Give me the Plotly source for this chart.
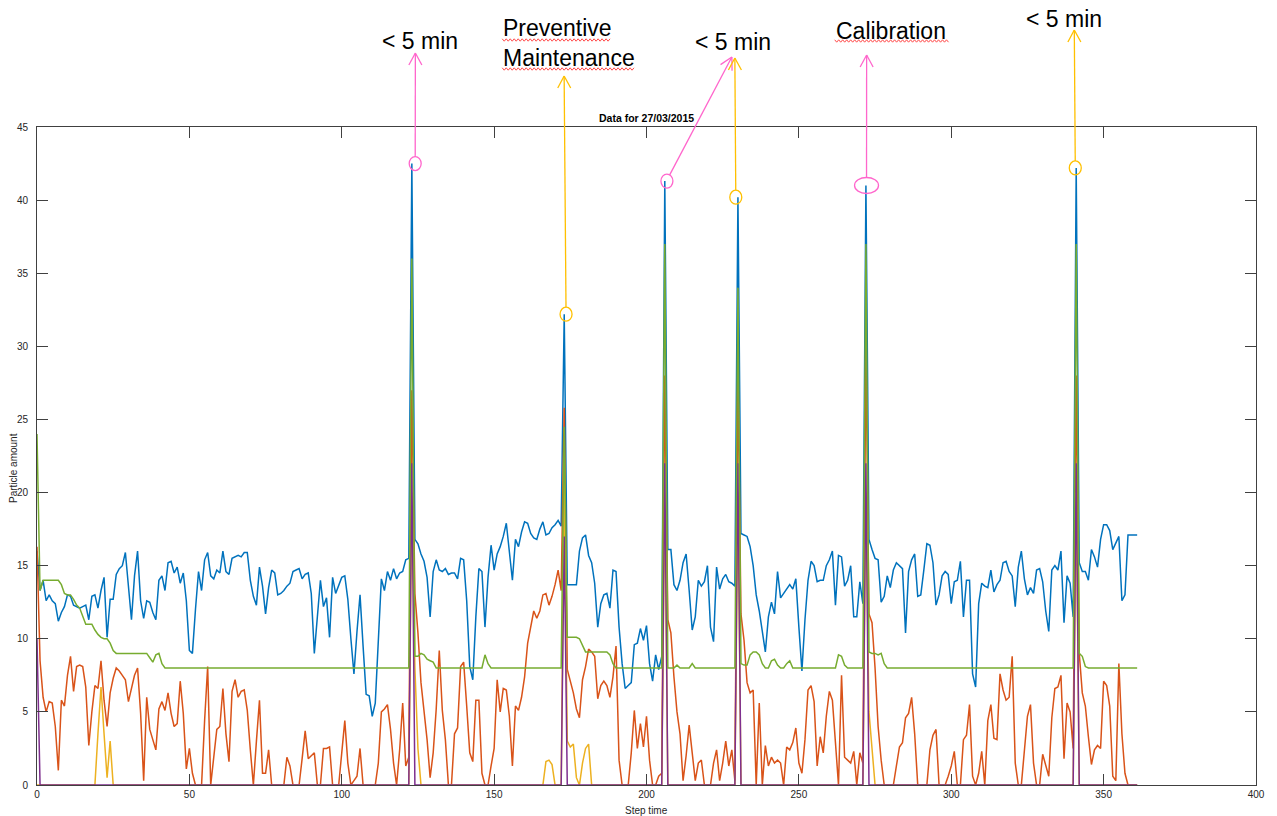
import plotly.graph_objects as go

step = list(range(362))

blue = [
    16.0, 13.3, 14.0, 12.6, 13.0, 12.6, 12.4, 11.2, 11.8, 12.2,
    13.0, 12.9, 12.3, 12.2, 12.1, 12.2, 12.3, 11.3, 12.9, 13.0,
    12.1, 13.3, 14.2, 10.1, 12.7, 12.7, 14.4, 14.8, 15.0, 15.9,
    13.8, 11.3, 14.3, 16.0, 12.6, 11.4, 12.6, 12.5, 11.8, 11.3,
    14.0, 14.3, 13.3, 15.2, 15.3, 14.5, 14.9, 13.8, 14.5, 12.6,
    9.2, 9.0, 12.0, 14.6, 13.3, 15.4, 15.9, 14.3, 14.1, 14.7,
    14.5, 16.0, 14.6, 14.4, 15.5, 15.6, 15.7, 15.6, 15.9, 15.9,
    14.0, 12.9, 12.3, 14.9, 13.6, 11.7, 13.5, 14.7, 14.5, 13.0,
    13.1, 13.3, 13.6, 13.8, 14.6, 14.7, 14.8, 14.1, 14.4, 14.5,
    13.1, 9.0, 11.5, 14.0, 12.2, 12.8, 10.1, 14.2, 13.1, 13.7,
    14.2, 14.3, 12.7, 10.0, 7.6, 10.5, 13.0, 9.5, 6.2, 6.1,
    4.7, 5.6, 10.0, 14.1, 13.3, 14.6, 14.0, 14.8, 14.1, 14.5,
    14.6, 15.4, 15.5, 42.5, 16.8, 16.5, 15.8, 15.3, 14.2, 11.5,
    14.6, 15.4, 14.7, 14.6, 14.8, 14.4, 14.5, 14.5, 14.1, 15.5,
    15.4, 12.6, 8.1, 7.2, 11.5, 14.8, 14.6, 10.8, 14.2, 16.4,
    14.7, 15.8, 16.3, 17.0, 17.9, 16.1, 14.0, 16.8, 16.3, 17.3,
    18.0, 17.9, 17.2, 16.9, 16.8, 17.5, 18.0, 17.1, 17.2, 17.6,
    17.8, 18.1, 17.7, 32.2, 13.7, 13.7, 13.7, 13.7, 16.0, 16.9,
    17.1, 15.7, 15.2, 13.8, 10.8, 12.4, 13.0, 13.1, 12.1, 14.7,
    14.6, 10.8, 8.3, 6.6, 6.8, 7.0, 9.6, 9.7, 10.7, 9.9,
    10.9, 8.3, 7.1, 8.9, 7.9, 8.8, 41.3, 16.1, 16.1, 13.7,
    13.3, 14.0, 15.2, 15.8, 13.3, 10.6, 11.5, 14.0, 13.6, 13.9,
    15.0, 10.8, 9.8, 14.9, 13.4, 14.1, 14.4, 13.9, 13.8, 13.6,
    40.2, 17.2, 17.1, 17.0, 16.3, 15.0, 13.0, 11.9, 10.5, 9.1,
    11.5, 12.5, 11.7, 14.6, 12.8, 13.1, 13.4, 13.7, 13.4, 14.1,
    10.8, 7.8, 11.3, 14.0, 15.3, 15.0, 13.9, 14.0, 14.0, 15.0,
    15.4, 16.0, 12.3, 15.7, 15.6, 13.6, 14.0, 15.0, 11.5, 11.5,
    13.9, 12.4, 41.0, 16.8, 16.1, 15.5, 15.4, 12.5, 12.9, 14.3,
    13.5, 14.7, 15.2, 15.0, 14.8, 10.4, 14.6, 15.4, 15.8, 12.9,
    13.0, 14.7, 16.5, 16.4, 15.2, 12.3, 13.0, 14.3, 14.6, 14.4,
    12.4, 13.9, 14.0, 15.3, 11.5, 14.0, 14.0, 7.6, 6.7, 12.4,
    13.8, 13.6, 13.5, 14.7, 13.2, 13.7, 14.0, 15.2, 15.3, 14.6,
    14.3, 12.2, 14.9, 16.0, 14.1, 13.0, 13.5, 13.1, 14.7, 14.8,
    13.9, 11.9, 10.5, 14.7, 15.0, 14.7, 16.0, 11.1, 14.3, 13.8,
    11.5, 42.2, 15.2, 14.6, 14.6, 14.0, 16.1, 15.6, 14.9, 16.8,
    17.8, 17.8, 17.4, 16.1, 16.5, 17.0, 12.6, 13.0, 17.1, 17.1,
    17.1, 17.1,
]

orange = [
    16.3, 8.5, 6.0, 5.0, 5.7, 5.6, 4.0, 1.0, 5.8, 5.4,
    7.5, 8.8, 6.4, 8.1, 8.2, 8.1, 6.7, 2.7, 5.0, 6.8,
    6.6, 8.5, 5.8, 4.0, 6.3, 7.3, 8.0, 7.8, 7.5, 7.2,
    5.7, 6.7, 7.5, 8.0, 4.9, 0.3, 6.0, 3.8, 3.1, 2.4,
    5.2, 5.7, 5.1, 6.3, 4.9, 4.0, 4.2, 7.1, 4.9, 1.1,
    2.5, 0.8, 0.0, 0.0, 0.0, 4.4, 8.1, 0.0, 2.0, 3.8,
    4.0, 6.6, 3.5, 1.6, 6.4, 7.2, 6.0, 6.4, 6.5, 5.1,
    2.4, 0.0, 3.0, 5.8, 0.8, 0.8, 2.4, 0.0, 0.0, 0.0,
    0.0, 0.0, 1.9, 1.3, 0.0, 0.0, 0.0, 1.8, 3.7, 1.8,
    2.0, 2.2, 0.0, 0.0, 2.5, 2.5, 2.6, 0.0, 0.0, 0.0,
    2.2, 4.4, 1.5, 0.0, 0.3, 0.6, 2.5, 0.0, 0.0, 0.0,
    0.0, 0.0, 1.5, 5.0, 5.2, 5.5, 3.8, 1.5, 0.0, 2.4,
    5.6, 1.3, 1.9, 27.0, 13.1, 10.4, 7.0, 5.0, 3.1, 0.5,
    2.2, 5.2, 9.2, 5.1, 3.1, 0.0, 0.0, 3.5, 3.9, 8.1,
    8.4, 5.4, 2.2, 1.6, 5.8, 5.8, 0.8, 0.0, 0.0, 1.3,
    2.5, 7.2, 5.0, 6.6, 6.5, 4.7, 1.3, 5.4, 5.1, 6.0,
    7.4, 9.7, 10.8, 11.9, 11.4, 11.9, 13.0, 13.1, 12.3, 12.9,
    13.7, 14.7, 13.3, 25.8, 7.9, 7.1, 6.3, 5.2, 4.6, 7.2,
    8.1, 9.3, 9.1, 8.8, 5.9, 6.8, 7.1, 6.8, 6.0, 7.4,
    9.5, 1.7, 0.0, 0.0, 0.0, 2.2, 5.1, 2.5, 4.2, 2.6,
    4.7, 1.7, 0.0, 0.0, 0.6, 0.8, 28.0, 11.3, 10.4, 7.4,
    5.0, 3.5, 0.3, 2.0, 4.1, 2.2, 0.3, 1.5, 1.7, 0.0,
    0.0, 0.0, 1.5, 2.4, 0.3, 1.5, 3.0, 1.3, 2.4, 0.3,
    28.0, 11.7, 9.9, 7.0, 6.3, 6.5, 0.0, 5.6, 0.0, 2.7,
    1.3, 1.9, 1.5, 1.7, 1.5, 0.0, 2.6, 2.4, 2.9, 3.9,
    1.5, 0.8, 3.1, 6.5, 6.8, 5.7, 1.3, 3.3, 2.2, 4.7,
    6.4, 5.8, 2.9, 0.0, 7.5, 1.9, 1.7, 1.5, 2.3, 0.0,
    2.2, 1.5, 30.0, 11.7, 11.1, 8.0, 4.0, 1.7, 0.0, 0.0,
    0.0, 0.0, 1.3, 2.6, 2.9, 4.6, 4.9, 6.0, 3.5, 0.0,
    0.0, 0.0, 0.0, 2.4, 3.4, 3.8, 0.0, 0.0, 0.0, 0.6,
    1.3, 2.3, 0.0, 0.0, 3.1, 3.4, 5.5, 0.6, 0.0, 0.8,
    2.3, 0.0, 4.4, 5.5, 3.2, 3.1, 7.6, 6.5, 5.8, 6.0,
    8.8, 1.5, 0.0, 0.0, 2.4, 4.7, 5.5, 1.5, 0.0, 0.0,
    2.1, 1.3, 0.6, 4.6, 6.6, 6.7, 7.5, 1.8, 5.6, 5.0,
    2.5, 28.0, 9.0, 6.3, 5.4, 3.3, 1.4, 2.4, 2.7, 2.5,
    7.1, 6.8, 5.4, 0.6, 0.3, 8.3, 3.5, 0.8, 0.0, 0.0,
    0.0, 0.0,
]

yellow = [
    0, 0, 0, 0, 0, 0, 0, 0, 0, 0,
    0, 0, 0, 0, 0, 0, 0, 0, 0, 0,
    3.5, 6.7, 3.5, 0.5, 3.0, 0, 0, 0, 0, 0,
    0, 0, 0, 0, 0, 0, 0, 0, 0, 0,
    0, 0, 0, 0, 0, 0, 0, 0, 0, 0,
    0, 0, 0, 0, 0, 0, 0, 0, 0, 0,
    0, 0, 0, 0, 0, 0, 0, 0, 0, 0,
    0, 0, 0, 0, 0, 0, 0, 0, 0, 0,
    0, 0, 0, 0, 0, 0, 0, 0, 0, 0,
    0, 0, 0, 0, 0, 0, 0, 0, 0, 0,
    0, 0, 0, 0, 0, 0, 0, 0, 0, 0,
    0, 0, 0, 0, 0, 0, 0, 0, 0, 0,
    0, 0, 0, 20.0, 8.0, 2.5, 0, 0, 0, 0,
    0, 0, 0, 0, 0, 0, 0, 0, 0, 0,
    0, 0, 0, 0, 0, 0, 0, 0, 0, 0,
    0, 0, 0, 0, 0, 0, 0, 0, 0, 0,
    0, 0, 0, 0, 0, 0, 0, 1.6, 1.7, 1.4,
    0, 0, 0, 20.4, 3.0, 2.6, 2.8, 0.5, 0, 1.5,
    2.5, 2.8, 0, 0, 0, 0, 0, 0, 0, 0,
    0, 0, 0, 0, 0, 0, 0, 0, 0, 0,
    0, 0, 0, 0, 0, 0, 20.0, 0, 0, 0,
    0, 0, 0, 0, 0, 0, 0, 0, 0, 0,
    0, 0, 0, 0, 0, 0, 0, 0, 0, 0,
    20.0, 0, 0, 0, 0, 0, 0, 0, 0, 0,
    0, 0, 0, 0, 0, 0, 0, 0, 0, 0,
    0, 0, 0, 0, 0, 0, 0, 0, 0, 0,
    0, 0, 0, 0, 0, 0, 0, 0, 0, 0,
    0, 0, 20.0, 5.0, 2.5, 0, 0, 0, 0, 0,
    0, 0, 0, 0, 0, 0, 0, 0, 0, 0,
    0, 0, 0, 0, 0, 0, 0, 0, 0, 0,
    0, 0, 0, 0, 0, 0, 0, 0, 0, 0,
    0, 0, 0, 0, 0, 0, 0, 0, 0, 0,
    0, 0, 0, 0, 0, 0, 0, 0, 0, 0,
    0, 0, 0, 0, 0, 0, 0, 0, 0, 0,
    0, 20.0, 0, 0, 0, 0, 0, 0, 0, 0,
    0, 0, 0, 0, 0, 0, 0, 0, 0, 0,
    0, 0,
]

purple = [
    10.0, 0, 0, 0, 0, 0, 0, 0, 0, 0,
    0, 0, 0, 0, 0, 0, 0, 0, 0, 0,
    0, 0, 0, 0, 0, 0, 0, 0, 0, 0,
    0, 0, 0, 0, 0, 0, 0, 0, 0, 0,
    0, 0, 0, 0, 0, 0, 0, 0, 0, 0,
    0, 0, 0, 0, 0, 0, 0, 0, 0, 0,
    0, 0, 0, 0, 0, 0, 0, 0, 0, 0,
    0, 0, 0, 0, 0, 0, 0, 0, 0, 0,
    0, 0, 0, 0, 0, 0, 0, 0, 0, 0,
    0, 0, 0, 0, 0, 0, 0, 0, 0, 0,
    0, 0, 0, 0, 0, 0, 0, 0, 0, 0,
    0, 0, 0, 0, 0, 0, 0, 0, 0, 0,
    0, 0, 0, 22.0, 0, 0, 0, 0, 0, 0,
    0, 0, 0, 0, 0, 0, 0, 0, 0, 0,
    0, 0, 0, 0, 0, 0, 0, 0, 0, 0,
    0, 0, 0, 0, 0, 0, 0, 0, 0, 0,
    0, 0, 0, 0, 0, 0, 0, 0, 0, 0,
    0, 0, 0, 17.0, 0, 0, 0, 0, 0, 0,
    0, 0, 0, 0, 0, 0, 0, 0, 0, 0,
    0, 0, 0, 0, 0, 0, 0, 0, 0, 0,
    0, 0, 0, 0, 0, 0, 22.0, 0, 0, 0,
    0, 0, 0, 0, 0, 0, 0, 0, 0, 0,
    0, 0, 0, 0, 0, 0, 0, 0, 0, 0,
    22.0, 0, 0, 0, 0, 0, 0, 0, 0, 0,
    0, 0, 0, 0, 0, 0, 0, 0, 0, 0,
    0, 0, 0, 0, 0, 0, 0, 0, 0, 0,
    0, 0, 0, 0, 0, 0, 0, 0, 0, 0,
    0, 0, 22.0, 0, 0, 0, 0, 0, 0, 0,
    0, 0, 0, 0, 0, 0, 0, 0, 0, 0,
    0, 0, 0, 0, 0, 0, 0, 0, 0, 0,
    0, 0, 0, 0, 0, 0, 0, 0, 0, 0,
    0, 0, 0, 0, 0, 0, 0, 0, 0, 0,
    0, 0, 0, 0, 0, 0, 0, 0, 0, 0,
    0, 0, 0, 0, 0, 0, 0, 0, 0, 0,
    0, 22.0, 0, 0, 0, 0, 0, 0, 0, 0,
    0, 0, 0, 0, 0, 0, 0, 0, 0, 0,
    0, 0,
]

green = [
    24.0, 13.3, 14.0, 14.0, 14.0, 14.0, 14.0, 14.0, 13.7, 13.1,
    13.0, 13.0, 12.7, 12.3, 12.1, 11.5, 11.0, 11.0, 11.0, 10.6,
    10.3, 10.1, 10.0, 10.0, 9.7, 9.2, 9.0, 9.0, 9.0, 9.0,
    9.0, 9.0, 9.0, 9.0, 9.0, 9.0, 9.0, 8.7, 8.4, 8.9,
    9.0, 8.3, 8, 8, 8, 8, 8, 8, 8, 8,
    8, 8, 8, 8, 8, 8, 8, 8, 8, 8,
    8, 8, 8, 8, 8, 8, 8, 8, 8, 8,
    8, 8, 8, 8, 8, 8, 8, 8, 8, 8,
    8, 8, 8, 8, 8, 8, 8, 8, 8, 8,
    8, 8, 8, 8, 8, 8, 8, 8, 8, 8,
    8, 8, 8, 8, 8, 8, 8, 8, 8, 8,
    8, 8, 8, 8, 8, 8, 8, 8, 8, 8,
    8, 8, 8, 36.0, 8.8, 8.8, 9.0, 8.9, 8.6, 8.5,
    8.4, 8, 8, 8, 8, 8, 8, 8, 8, 8,
    8, 8, 8, 8, 8, 8, 8, 8.9, 8.3, 8,
    8, 8, 8, 8, 8, 8, 8, 8, 8, 8,
    8, 8, 8, 8, 8, 8, 8, 8, 8, 8,
    8, 8, 8, 24.5, 10.1, 10.1, 10.1, 10.1, 10.0, 9.6,
    9.1, 9.1, 9.1, 9.1, 9.1, 9.1, 9.1, 9.1, 8.9, 8.3,
    8, 8, 8, 8, 8, 8, 8, 8, 8, 8,
    8, 8, 8, 8, 8, 8, 37.0, 8, 8, 8,
    8.2, 8, 8, 8, 8, 8.3, 8, 8, 8, 8,
    8, 8, 8, 8, 8, 8, 8, 8, 8, 8,
    34.0, 8.3, 8.2, 8.2, 8.9, 9.1, 9.1, 8.9, 8.3, 8.0,
    8.0, 8.5, 8.6, 8.2, 8.0, 8.0, 8.3, 8.5, 8.0, 8.0,
    8, 8, 8, 8, 8, 8, 8, 8, 8, 8,
    8, 8, 8, 8.9, 8.8, 8.2, 8, 8, 8, 8,
    8, 8, 37.0, 9.1, 9.0, 9.0, 8.9, 9.0, 8.3, 8.0,
    8, 8, 8, 8, 8, 8, 8, 8, 8, 8,
    8, 8, 8, 8, 8, 8, 8, 8, 8, 8,
    8, 8, 8, 8, 8, 8, 8, 8, 8, 8,
    8, 8, 8, 8, 8, 8, 8, 8, 8, 8,
    8, 8, 8, 8, 8, 8, 8, 8, 8, 8,
    8, 8, 8, 8, 8, 8, 8, 8, 8, 8,
    8, 37.0, 9.0, 8.8, 8.1, 8, 8, 8, 8, 8,
    8, 8, 8, 8, 8, 8, 8, 8, 8, 8,
    8, 8,
]

for arr in (blue, orange, yellow, purple, green):
    assert len(arr) == len(step), len(arr)

x_ticks = [0, 50, 100, 150, 200, 250, 300, 350, 400]
y_ticks = [0, 5, 10, 15, 20, 25, 30, 35, 40, 45]

# spikes marked by the hand-drawn annotations
events = [
    # (step index, circle x offset, colour, arrow tip in page px, ellipse radii px)
    (123, 1.1, "#FF66CC", (416, 53), (6, 7)),
    (173, 0.6, "#FFC000", (565, 76), (6, 7)),
    (206, 0.7, "#FF66CC", (733, 57), (6, 7)),
    (230, -0.7, "#FFC000", (736, 58), (6, 7)),
    (272, 0.2, "#FF66CC", (868, 55), (12, 8)),
    (341, -0.3, "#FFC000", (1076, 30), (6, 7)),
]

fig = go.Figure()
series = [
    ("s1", blue, "#0072BD"),
    ("s2", orange, "#D95319"),
    ("s3", yellow, "#EDB120"),
    ("s4", purple, "#7E2F8E"),
    ("s5", green, "#77AC30"),
]
for name, vals, col in series:
    fig.add_trace(go.Scatter(x=step, y=vals, mode="lines", name=name,
                             line=dict(color=col, width=1.5),
                             showlegend=False, hoverinfo="skip"))

L, T, W, H = 37, 127, 1221, 658
XR, YR = 400.0, 45.0


def to_paper(px, py):
    return (px - L) / W, (T + H - py) / H


def data_to_px(x, y):
    return L + x * W / XR, T + H - y * H / YR


shapes = []
for idx, off, col, tip, (rx, ry) in events:
    xc = idx + off
    cx, cy = data_to_px(xc, blue[idx])
    shapes.append(dict(type="circle", xref="x", yref="y",
                       x0=xc - rx * XR / W, x1=xc + rx * XR / W,
                       y0=blue[idx] - ry * YR / H, y1=blue[idx] + ry * YR / H,
                       line=dict(color=col, width=1.3)))
    dx, dy = tip[0] - cx, tip[1] - cy
    n = (dx * dx + dy * dy) ** 0.5
    ux, uy = dx / n, dy / n
    tx, ty = cx + rx * ux, cy + ry * uy
    p0 = to_paper(tx, ty)
    p1 = to_paper(*tip)
    shapes.append(dict(type="line", xref="paper", yref="paper",
                       x0=p0[0], y0=p0[1], x1=p1[0], y1=p1[1],
                       line=dict(color=col, width=1.3)))
    for s in (1, -1):
        ax = tip[0] - 12 * ux + s * 6.5 * (-uy)
        ay = tip[1] - 12 * uy + s * 6.5 * ux
        pa = to_paper(ax, ay)
        shapes.append(dict(type="line", xref="paper", yref="paper",
                           x0=pa[0], y0=pa[1], x1=p1[0], y1=p1[1],
                           line=dict(color=col, width=1.3)))

# red spell-check squiggles under words
for x0, x1, yb in [(503, 612, 40), (503, 636, 69), (836, 950, 41)]:
    pts = []
    k = 0
    px = x0
    while px <= x1:
        py = yb + (1.2 if k % 2 else -1.2)
        pts.append(to_paper(px, py))
        px += 2
        k += 1
    path = "M " + " L ".join(f"{a:.5f},{b:.5f}" for a, b in pts)
    shapes.append(dict(type="path", xref="paper", yref="paper", path=path,
                       line=dict(color="#FF4A4A", width=1)))

annotations = []
big = dict(family="Arial, Liberation Sans, sans-serif", size=23, color="#000000")
for text, px, py, anchor in [
    ("&lt; 5 min", 421, 41, "center"),
    ("&lt; 5 min", 734, 42, "center"),
    ("Calibration", 892, 31, "center"),
    ("&lt; 5 min", 1066, 19, "center"),
]:
    xp, yp = to_paper(px, py)
    annotations.append(dict(text=text, x=xp, y=yp, xref="paper", yref="paper",
                            xanchor=anchor, yanchor="middle", showarrow=False,
                            font=big))
xp, yp = to_paper(502, 43)
annotations.append(dict(text="Preventive<br>Maintenance", x=xp, y=yp,
                        xref="paper", yref="paper", xanchor="left",
                        yanchor="middle", align="left", showarrow=False,
                        font=big))

small = dict(family="Arial, Liberation Sans, sans-serif", size=10, color="#262626")
annotations.append(dict(text="<b>Data for 27/03/2015</b>", x=0.5, y=1,
                        xref="paper", yref="paper", xanchor="center",
                        yanchor="bottom", yshift=1, showarrow=False,
                        font=dict(family="Arial, Liberation Sans, sans-serif",
                                  size=10.5, color="#000000")))
xp, yp = to_paper(648, 810)
annotations.append(dict(text="Step time", x=0.5, y=yp, xref="paper",
                        yref="paper", xanchor="center", yanchor="middle",
                        showarrow=False, font=small))
xp, yp = to_paper(13, 468)
annotations.append(dict(text="Particle amount", x=xp, y=yp, xref="paper",
                        yref="paper", xanchor="center", yanchor="middle",
                        textangle=-90, showarrow=False, font=small))

axis_common = dict(showgrid=False, zeroline=False, showline=True,
                   linecolor="#404040", linewidth=1, mirror="ticks",
                   ticks="inside", ticklen=11, tickwidth=1,
                   tickcolor="#404040",
                   tickfont=dict(family="Arial, Liberation Sans, sans-serif",
                                 size=10, color="#262626"))

fig.update_layout(
    width=1277, height=816,
    margin=dict(l=L, r=1277 - (L + W), t=T, b=816 - (T + H), pad=0),
    plot_bgcolor="#FFFFFF", paper_bgcolor="#FFFFFF",
    xaxis=dict(range=[0, XR], tickvals=x_ticks, **axis_common),
    yaxis=dict(range=[0, YR], tickvals=y_ticks, ticklabelstandoff=6,
               **axis_common),
    shapes=shapes,
    annotations=annotations,
    showlegend=False,
)

fig.write_html("out.html",
               config={"displayModeBar": False},
               post_script="document.body.style.margin='0';"
                           "document.body.style.overflow='hidden';")
